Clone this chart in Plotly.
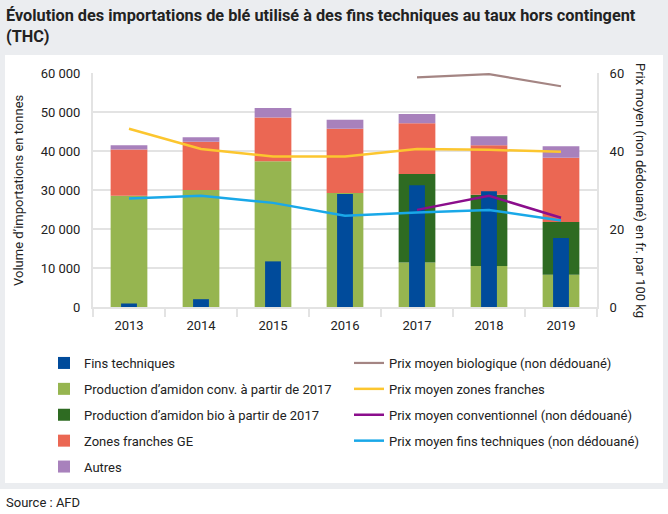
import numpy as np
import plotly.graph_objects as go

YEARS = ["2013", "2014", "2015", "2016", "2017", "2018", "2019"]

# volumes en tonnes (axe gauche)
fins_techniques = [900, 2000, 11700, 29000, 31200, 29700, 17700]
amidon_conv = [28500, 30000, 37400, 29200, 11400, 10500, 8300]
amidon_bio = [0, 0, 0, 0, 22700, 18300, 13500]
zones_franches_ge = [11900, 12400, 11200, 16500, 13000, 12700, 16500]
autres = [1100, 1100, 2400, 2300, 2400, 2300, 2900]

# prix moyens en fr. par 100 kg (axe droit)
prix_bio = [None, None, None, None, 58.9, 59.7, 56.6]
prix_zones_franches = [45.7, 40.5, 38.6, 38.6, 40.5, 40.3, 39.8]
prix_conventionnel = [None, None, None, None, 24.9, 28.5, 22.9]
prix_fins_techniques = [27.8, 28.5, 26.7, 23.4, 24.2, 24.9, 22.2]

FONT = "Roboto"
TXT = "#222222"
GRID = "#e3e3e3"

# base des barres empilées
base_bio = np.array(amidon_conv)
base_zf = base_bio + np.array(amidon_bio)
base_autres = base_zf + np.array(zones_franches_ge)

fig = go.Figure()

stacked = [
    ("Production d’amidon conv. à partir de 2017", amidon_conv, None, "#96b550"),
    ("Production d’amidon bio à partir de 2017", amidon_bio, base_bio, "#2e6b22"),
    ("Zones franches GE", zones_franches_ge, base_zf, "#eb6753"),
    ("Autres", autres, base_autres, "#a881bc"),
]
for name, vals, base, col in stacked:
    fig.add_trace(go.Bar(
        x=YEARS, y=vals, base=base, name=name, width=0.51,
        marker=dict(color=col, line=dict(width=0)),
        legend="legend", legendgroup=name,
    ))

fig.add_trace(go.Bar(
    x=YEARS, y=fins_techniques, name="Fins techniques", width=0.22,
    marker=dict(color="#004b9b", line=dict(width=0)),
    legend="legend", legendgroup="fins", legendrank=1,
))

lines = [
    ("Prix moyen biologique (non dédouané)", prix_bio, "#a48583", 2.2),
    ("Prix moyen zones franches", prix_zones_franches, "#fcc62f", 2.5),
    ("Prix moyen conventionnel (non dédouané)", prix_conventionnel, "#8b0e8c", 2.5),
    ("Prix moyen fins techniques (non dédouané)", prix_fins_techniques, "#19a8e8", 2.5),
]
for name, vals, col, w in lines:
    fig.add_trace(go.Scatter(
        x=YEARS, y=vals, name=name, mode="lines", yaxis="y2",
        line=dict(color=col, width=w), legend="legend2", legendgroup=name,
    ))

# fond gris et panneau blanc (en coordonnées papier)
L, R, T, B = 93, 71, 73, 207
PW, PH = 668 - L - R, 514 - T - B


def px_x(v):
    return (v - L) / PW


def px_y(v):
    return (514 - B - v) / PH


shapes = [
    dict(type="rect", xref="paper", yref="paper", layer="below",
         x0=px_x(0), x1=px_x(668), y0=px_y(0), y1=px_y(489),
         fillcolor="#ebedf0", line=dict(width=0)),
    dict(type="rect", xref="paper", yref="paper", layer="below",
         x0=px_x(5), x1=px_x(663), y0=px_y(55), y1=px_y(483),
         fillcolor="white", line=dict(width=0)),
]

annotations = [
    dict(text="<b>Évolution des importations de blé utilisé à des fins techniques au taux hors contingent<br>(THC)</b>",
         xref="paper", yref="paper", x=px_x(4), y=px_y(4), xanchor="left", yanchor="top",
         align="left", showarrow=False, font=dict(size=16.3, color=TXT)),
    dict(text="Volume d’importations en tonnes", xref="paper", yref="paper",
         x=px_x(18), y=0.5, xanchor="center", yanchor="middle", textangle=-90,
         showarrow=False, font=dict(size=13, color=TXT)),
    dict(text="Prix moyen (non dédouané) en fr. par 100 kg", xref="paper", yref="paper",
         x=px_x(641), y=0.5, xanchor="center", yanchor="middle", textangle=90,
         showarrow=False, font=dict(size=13, color=TXT)),
    dict(text="Source : AFD", xref="paper", yref="paper", x=px_x(4), y=px_y(502),
         xanchor="left", yanchor="middle", showarrow=False,
         font=dict(size=13, color=TXT)),
]

fig.update_layout(
    template="none",
    width=668, height=514,
    margin=dict(l=L, r=R, t=T, b=B, autoexpand=False),
    paper_bgcolor="white", plot_bgcolor="white",
    font=dict(family=FONT, size=13, color=TXT),
    separators=", ",
    barmode="overlay",
    xaxis=dict(
        type="category", showgrid=False, showline=True, linecolor=GRID, linewidth=2,
        ticks="outside", tickson="boundaries", ticklen=8, tickcolor=GRID, tickwidth=2,
        ticklabelstandoff=5, automargin=False,
    ),
    yaxis=dict(
        range=[0, 60000], dtick=10000, tickformat=",d", showgrid=True,
        gridcolor=GRID, gridwidth=2, showline=True, linecolor=GRID, linewidth=2,
        zeroline=False, ticks="", ticklabelstandoff=8, automargin=False,
    ),
    yaxis2=dict(
        range=[0, 60], dtick=20, overlaying="y", side="right", showgrid=False,
        showline=True, linecolor=GRID, linewidth=2, zeroline=False, ticks="",
        ticklabelstandoff=8, automargin=False,
    ),
    legend=dict(
        x=px_x(44), y=px_y(348), xanchor="left", yanchor="top",
        traceorder="grouped", tracegroupgap=6, bgcolor="rgba(0,0,0,0)",
        font=dict(size=13, color=TXT),
    ),
    legend2=dict(
        x=px_x(349), y=px_y(348), xanchor="left", yanchor="top",
        traceorder="grouped", tracegroupgap=6, bgcolor="rgba(0,0,0,0)",
        font=dict(size=13, color=TXT),
    ),
    shapes=shapes,
    annotations=annotations,
)

fig.write_html("out.html", config={"displayModeBar": False},
               post_script="document.body.style.margin='0';")
